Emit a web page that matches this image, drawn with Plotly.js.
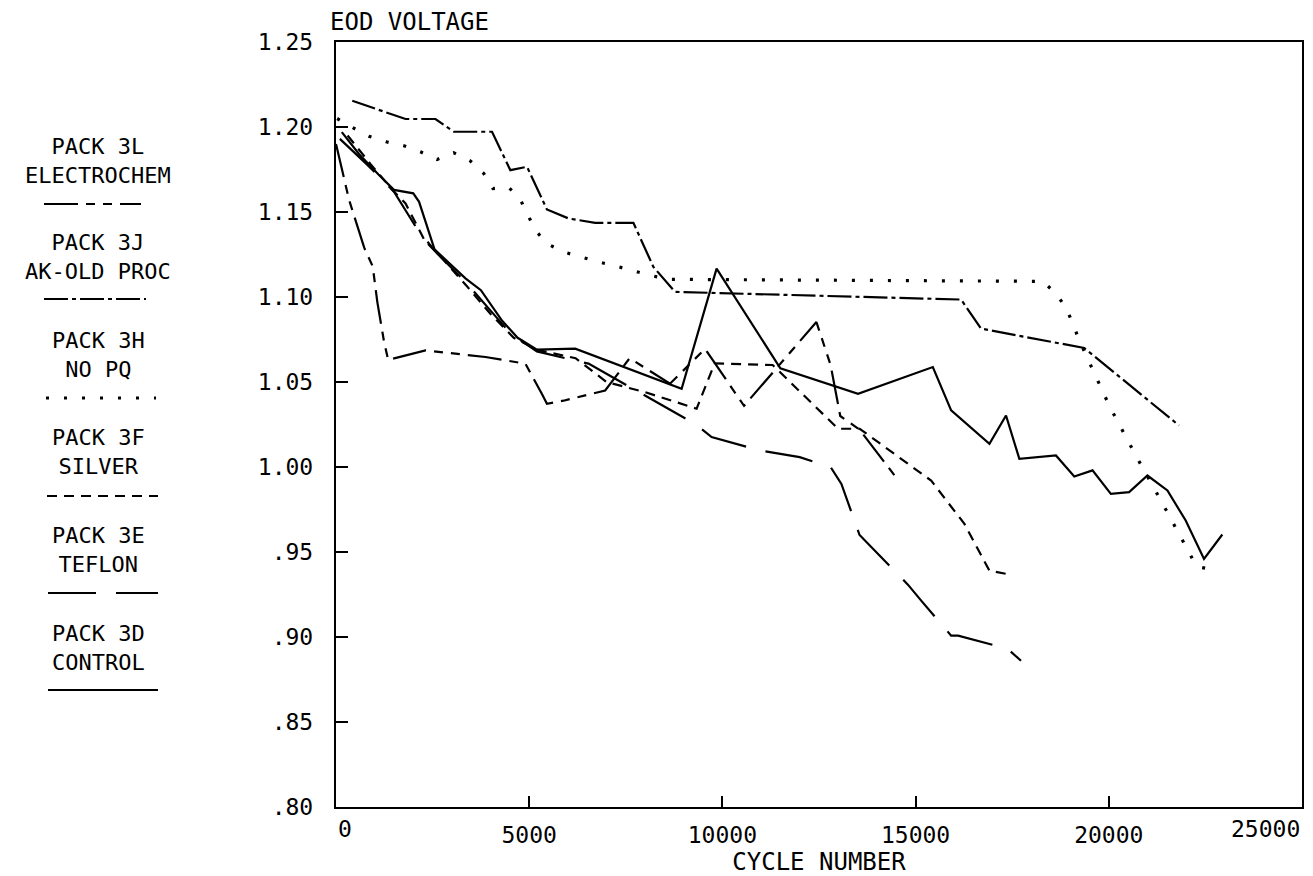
<!DOCTYPE html>
<html>
<head>
<meta charset="utf-8">
<script src="https://cdn.plot.ly/plotly-3.0.1.min.js"></script>
<style>
html,body{margin:0;padding:0;background:#fff;}
#chart{width:1313px;height:876px;}
</style>
</head>
<body>
<div id="chart"></div>
<script>
// ---- data (cycle number, end-of-discharge voltage) ----
const x3L = [0, 340, 730, 950, 1070, 1245, 1350, 2317, 3866, 4900, 5330, 5459, 5889, 6966, 7600, 8645, 9550, 10560, 12433, 12800, 13050, 13550, 14457];
const y3L = [1.190, 1.157, 1.129, 1.118, 1.097, 1.0735, 1.063, 1.0686, 1.0647, 1.0608, 1.043, 1.0372, 1.039, 1.045, 1.064, 1.049, 1.0695, 1.036, 1.0853, 1.060, 1.030, 1.022, 0.995];

const x3J = [421, 1800, 2575, 3048, 4038, 4512, 4943, 5459, 6018, 6707, 7697, 8214, 8774, 12734, 16178, 16694, 19364, 21818];
const y3J = [1.2154, 1.2047, 1.2047, 1.1972, 1.1972, 1.1746, 1.1766, 1.1515, 1.1462, 1.1436, 1.1436, 1.1177, 1.103, 1.1006, 1.0985, 1.0814, 1.070, 1.0244];

const x3H = [30, 420, 852, 1300, 1756, 2187, 2617, 3048, 3479, 3823, 4063, 4469, 4745, 4942, 5158, 5459, 5889, 6337, 6793, 7224, 7680, 8153, 8601, 18288, 18590, 18874, 19063, 19235, 20022, 20698, 21387, 22051, 22274, 22723];
const y3H = [1.205, 1.1998, 1.1946, 1.1913, 1.189, 1.1854, 1.1809, 1.1848, 1.180, 1.1727, 1.1638, 1.1644, 1.1585, 1.1491, 1.1393, 1.1314, 1.1265, 1.1236, 1.1206, 1.1183, 1.1153, 1.1126, 1.1104, 1.1092, 1.103, 1.0945, 1.0847, 1.0745, 1.0356, 1.0068, 0.9787, 0.9508, 0.9414, 0.9395];

const x3F = [300, 900, 1500, 1800, 2300, 2700, 3400, 4000, 4600, 5200, 6200, 7000, 8000, 9333, 9800, 11300, 12993, 13553, 15403, 16264, 16911, 17384];
const y3F = [1.195, 1.178, 1.162, 1.155, 1.133, 1.124, 1.106, 1.090, 1.076, 1.069, 1.064, 1.050, 1.044, 1.0343, 1.061, 1.060, 1.0225, 1.0225, 0.992, 0.9665, 0.939, 0.937];

const x3E = [100, 800, 1500, 2100, 2600, 3350, 4000, 4500, 5200, 6535, 9291, 9720, 10970, 11528, 12000, 12800, 13080, 13550, 14801, 15145, 15920, 16100, 16610, 17384, 17728];
const y3E = [1.193, 1.178, 1.162, 1.140, 1.126, 1.109, 1.092, 1.079, 1.068, 1.0608, 1.0254, 1.0176, 1.0097, 1.0078, 1.0058, 1.000, 0.990, 0.960, 0.9308, 0.9214, 0.9008, 0.9008, 0.8978, 0.893, 0.886];

const x3D = [150, 600, 1100, 1500, 2000, 2150, 2550, 3350, 3750, 4300, 4700, 5200, 6191, 8601, 8945, 9850, 11500, 13510, 15446, 15920, 16911, 17340, 17685, 18632, 19106, 19579, 20053, 20526, 21000, 21517, 21990, 22464, 22938];
const y3D = [1.197, 1.184, 1.172, 1.163, 1.161, 1.156, 1.128, 1.111, 1.104, 1.086, 1.076, 1.069, 1.0696, 1.049, 1.046, 1.1167, 1.058, 1.0431, 1.0588, 1.0333, 1.0137, 1.0303, 1.0048, 1.0068, 0.9944, 0.998, 0.9842, 0.9852, 0.995, 0.9862, 0.9685, 0.9459, 0.9603];

const seriesPack  = ["PACK 3L", "PACK 3J", "PACK 3H", "PACK 3F", "PACK 3E", "PACK 3D"];
const seriesLabel = ["ELECTROCHEM", "AK-OLD PROC", "NO PQ", "SILVER", "TEFLON", "CONTROL"];

const yTickVals = [0.80, 0.85, 0.90, 0.95, 1.00, 1.05, 1.10, 1.15, 1.20, 1.25];
const yTickText = [".80", ".85", ".90", ".95", "1.00", "1.05", "1.10", "1.15", "1.20", "1.25"];
const xTickVals = [0, 5000, 10000, 15000, 20000, 25000];
const xTickText = ["0", "5000", "10000", "15000", "20000", "25000"];

// ---- styles ----
const FONT = "DejaVu Sans Mono, Liberation Mono, monospace";
const dashes = [
  "34px,8px,9px,8px,9px,8px",   // 3L electrochem
  "24px,4px,4px,4px",           // 3J ak-old proc
  "3px,15px",                   // 3H no pq
  "10px,7px",                   // 3F silver
  "48px,20px",                  // 3E teflon
  "solid"                       // 3D control
];
const widths = [2.2, 2.2, 3.2, 2.2, 2.2, 2.2];
const xs = [x3L, x3J, x3H, x3F, x3E, x3D];
const ys = [y3L, y3J, y3H, y3F, y3E, y3D];

const traces = xs.map((xv, i) => ({
  type: "scatter", mode: "lines",
  x: xv, y: ys[i],
  name: seriesPack[i] + " " + seriesLabel[i],
  line: {color: "#000", width: widths[i], dash: dashes[i]},
  showlegend: false, hoverinfo: "x+y+name"
}));

// plot area in pixels
const L = 336, R = 1302, T = 42, B = 807, W = 1313, H = 876;
const px2paperX = p => (p - L) / (R - L);
const px2paperY = p => (B - p) / (B - T);

// legend geometry (pixels)
const legCx = 98;
const legYmid = [161, 257, 355, 452, 550, 648];
const legYs = [204, 299, 398, 496, 593, 690];
const legX0 = [44, 44, 46, 47, 48, 48];
const legX1 = [141, 146, 156, 158, 158, 158];

const annotations = [];
const shapes = [];
for (let i = 0; i < 6; i++) {
  annotations.push({xref: "paper", yref: "paper", x: px2paperX(legCx), y: px2paperY(legYmid[i]),
    text: seriesPack[i] + "<br>" + seriesLabel[i], showarrow: false, xanchor: "center", yanchor: "middle",
    align: "center", font: {family: FONT, size: 22, color: "#000"}});
  shapes.push({type: "line", xref: "paper", yref: "paper",
    x0: px2paperX(legX0[i]), x1: px2paperX(legX1[i]), y0: px2paperY(legYs[i]), y1: px2paperY(legYs[i]),
    line: {color: "#000", width: widths[i], dash: dashes[i]}});
}
// edge x tick labels kept inside the frame like the original
annotations.push({xref: "x", yref: "paper", x: 0, y: px2paperY(829), text: xTickText[0],
  showarrow: false, xanchor: "left", yanchor: "middle", font: {family: FONT, size: 23, color: "#000"}});
annotations.push({xref: "x", yref: "paper", x: 25000, y: px2paperY(829), text: xTickText[5],
  showarrow: false, xanchor: "right", yanchor: "middle", font: {family: FONT, size: 23, color: "#000"}});

const layout = {
  width: W, height: H,
  margin: {l: L, r: W - R, t: T, b: H - B, pad: 0},
  paper_bgcolor: "#fff", plot_bgcolor: "#fff",
  font: {family: FONT, color: "#000"},
  title: {text: "EOD VOLTAGE", xref: "container", yref: "container",
    x: 330 / W, xanchor: "left", y: 1 - 22 / H, yanchor: "middle",
    font: {family: FONT, size: 24, color: "#000"}},
  xaxis: {
    range: [0, 25000], autorange: false,
    tickvals: xTickVals, ticktext: ["", "5000", "10000", "15000", "20000", ""],
    ticks: "inside", ticklen: 11, tickwidth: 2, tickcolor: "#000",
    showline: true, linecolor: "#000", linewidth: 2.2, mirror: true,
    showgrid: false, zeroline: false,
    ticklabelstandoff: 6,
    tickfont: {family: FONT, size: 23, color: "#000"},
    title: {text: "CYCLE NUMBER", standoff: 2, font: {family: FONT, size: 24, color: "#000"}},
    automargin: false
  },
  yaxis: {
    range: [0.80, 1.25], autorange: false,
    tickvals: yTickVals, ticktext: yTickText,
    ticks: "inside", ticklen: 12, tickwidth: 2, tickcolor: "#000",
    showline: true, linecolor: "#000", linewidth: 2.2, mirror: true,
    showgrid: false, zeroline: false,
    ticklabelstandoff: 16,
    tickfont: {family: FONT, size: 23, color: "#000"},
    automargin: false
  },
  annotations: annotations,
  shapes: shapes,
  showlegend: false
};

Plotly.newPlot("chart", traces, layout, {displayModeBar: false, staticPlot: true});
</script>
</body>
</html>
